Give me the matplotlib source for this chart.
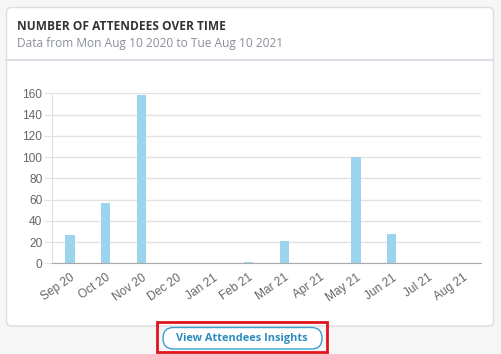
import matplotlib
matplotlib.use("Agg")
import matplotlib.pyplot as plt
from matplotlib.patches import FancyBboxPatch, Rectangle

months = ["Sep 20", "Oct 20", "Nov 20", "Dec 20", "Jan 21", "Feb 21",
          "Mar 21", "Apr 21", "May 21", "Jun 21", "Jul 21", "Aug 21"]
attendees = [27, 57, 158, 0, 0, 1, 21, 0, 100, 28, 0, 0]
yticks = [0, 20, 40, 60, 80, 100, 120, 140, 160]

W, H = 501, 354
fig = plt.figure(figsize=(W / 100, H / 100), dpi=100)
fig.patch.set_facecolor("#f6f6f6")

# background / decoration axes in pixel coordinates
bg = fig.add_axes([0, 0, 1, 1], zorder=-1)
bg.set_xlim(0, W)
bg.set_ylim(H, 0)
bg.axis("off")
bg.add_patch(FancyBboxPatch((6.5, 7.5), 487, 318.5,
                            boxstyle="round,pad=0,rounding_size=5",
                            facecolor="white", edgecolor="#dcdde0", linewidth=1.0))
bg.plot([6.5, 493.5], [59.5, 59.5], color="#dcdfe6", lw=1.5)
bg.text(17, 26, "NUMBER OF ATTENDEES OVER TIME", fontsize=8.6,
        fontweight="bold", color="#333333", family="Open Sans", va="center")
bg.text(17, 44, "Data from Mon Aug 10 2020 to Tue Aug 10 2021", fontsize=8.6,
        color="#8a8f98", family="Open Sans", va="center")
bg.add_patch(FancyBboxPatch((163, 327.5), 159, 21.5,
                            boxstyle="round,pad=0,rounding_size=10.5",
                            facecolor="white", edgecolor="#3a9fcf", linewidth=1.0))
bg.text(242, 339, "View Attendees Insights", fontsize=7.9, fontweight="bold",
        color="#2c8cc0", family="Open Sans", ha="center", va="center")
bg.add_patch(Rectangle((157.5, 321.5), 169.5, 30.5, fill=False,
                       edgecolor="#e0141e", linewidth=2.0))

# chart axes
left, right, top, bottom = 52, 481, 93.3, 263.3
ax = fig.add_axes([left / W, 1 - bottom / H, (right - left) / W, (bottom - top) / H])
x = list(range(len(months)))
ax.bar(x, attendees, width=0.26, color="#9dd4ed", edgecolor="none", zorder=3)
ax.set_xlim(-0.5, len(months) - 0.5)
ax.set_ylim(0, 160)
ax.set_yticks(yticks)
ax.set_yticklabels([str(v) for v in yticks], fontsize=8.6, color="#666666",
                   family="Liberation Sans")
ax.set_xticks(x)
ax.set_xticklabels(months, rotation=35, ha="right", rotation_mode="anchor",
                   fontsize=8.6, color="#666666", family="Liberation Sans")
ax.tick_params(axis="x", length=0, pad=6)
ax.tick_params(axis="y", length=6, color="#e2e2e2", pad=1)
ax.grid(axis="y", color="#e2e2e2", lw=1, zorder=0)
for s in ["top", "right"]:
    ax.spines[s].set_visible(False)
ax.spines["left"].set_color("#e2e2e2")
ax.spines["bottom"].set_color("#aaaaaa")
ax.spines["bottom"].set_zorder(4)
ax.set_facecolor("none")

fig.savefig("out.png", dpi=100, facecolor=fig.get_facecolor())
